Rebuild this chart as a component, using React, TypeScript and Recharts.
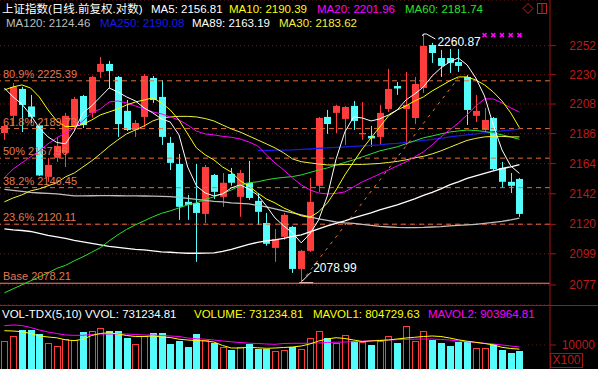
import React from "react";
import {
  ComposedChart, Bar, Line, XAxis, YAxis, CartesianGrid, ReferenceLine, ReferenceDot,
} from "recharts";

// daily candles
const opens = [
  2186.5, 2199.2, 2219.3, 2206.2, 2192.0, 2154.3, 2168.2, 2171.8, 2191.7, 2214.0,
  2201.4, 2232.1, 2238.1, 2228.3, 2202.9, 2188.7, 2198.4, 2227.5, 2213.3, 2179.2,
  2163.7, 2136.2, 2135.4, 2127.5, 2155.7, 2139.8, 2156.4, 2139.8, 2150.0, 2136.9,
  2121.0, 2103.2, 2111.1, 2118.2, 2088.3, 2101.1, 2147.8, 2198.4, 2201.4, 2196.9,
  2206.6, 2185.5, 2184.3, 2183.6, 2204.3, 2221.5, 2204.3, 2197.6, 2220.0, 2252.5,
  2242.6, 2242.6, 2239.6, 2228.3, 2199.2, 2188.7, 2197.6, 2160.8, 2150.7, 2152.8,
];
const highs = [
  2193.1, 2223.8, 2220.8, 2214.8, 2193.1, 2168.2, 2183.6, 2201.4, 2213.3, 2214.8,
  2229.0, 2243.4, 2240.4, 2229.0, 2211.0, 2196.1, 2230.6, 2229.0, 2226.0, 2183.6,
  2171.1, 2141.2, 2163.7, 2163.0, 2156.4, 2157.1, 2160.8, 2159.3, 2166.0, 2142.6,
  2128.2, 2116.7, 2128.2, 2118.9, 2101.8, 2153.5, 2198.4, 2203.6, 2207.3, 2206.6,
  2210.3, 2209.5, 2191.7, 2207.3, 2234.4, 2224.5, 2232.1, 2228.3, 2260.87, 2254.1,
  2248.7, 2249.5, 2249.5, 2229.8, 2214.8, 2205.1, 2198.4, 2165.2, 2157.1, 2153.5,
];
const lows = [
  2181.4, 2192.4, 2187.2, 2193.9, 2155.0, 2150.7, 2165.2, 2161.5, 2188.7, 2190.2,
  2197.7, 2227.5, 2220.0, 2183.6, 2187.9, 2183.6, 2190.9, 2208.8, 2177.7, 2159.3,
  2123.2, 2123.2, 2093.3, 2121.0, 2138.3, 2132.6, 2147.8, 2125.4, 2137.6, 2119.6,
  2104.7, 2093.3, 2108.9, 2085.5, 2078.99, 2100.4, 2143.4, 2185.8, 2186.5, 2177.7,
  2188.7, 2181.4, 2176.3, 2177.7, 2202.1, 2214.8, 2177.7, 2193.1, 2216.3, 2238.9,
  2228.3, 2231.3, 2232.1, 2192.4, 2194.6, 2187.2, 2159.3, 2146.3, 2142.6, 2125.4,
];
const closes = [
  2191.7, 2220.8, 2207.3, 2198.4, 2155.3, 2163.0, 2177.0, 2199.2, 2211.8, 2192.4,
  2228.3, 2238.1, 2232.8, 2193.1, 2188.7, 2193.9, 2229.0, 2211.0, 2183.6, 2164.5,
  2132.6, 2134.0, 2128.2, 2161.5, 2143.4, 2150.0, 2150.0, 2157.1, 2139.0, 2129.0,
  2106.1, 2109.6, 2126.8, 2088.3, 2101.1, 2136.2, 2197.6, 2193.1, 2206.6, 2205.8,
  2195.4, 2186.5, 2182.5, 2201.4, 2219.3, 2219.6, 2207.3, 2223.0, 2251.8, 2246.4,
  2236.6, 2238.9, 2236.6, 2203.6, 2202.9, 2196.1, 2160.0, 2150.7, 2147.8, 2127.5,
];
const volumes = [
  1188000, 1423000, 1712000, 1698000, 1502000, 1108000, 953000, 1268000, 1235000, 1610000,
  1657000, 1784000, 1660000, 1652000, 1343000, 1033000, 1423000, 1577000, 1549000, 1047000,
  1188000, 920000, 1516000, 1235000, 1108000, 918000, 765000, 922000, 1033000, 830000,
  824000, 720000, 768000, 920000, 812000, 1315000, 1657000, 1343000, 1108000, 1469000,
  1188000, 1155000, 1000000, 1190000, 1423000, 1106000, 1892000, 1186000, 1657000, 1235000,
  1080000, 967000, 1155000, 1127000, 848000, 843000, 1033000, 765000, 638000, 731235,
];

// moving averages as drawn
const ma5 = [
  2220.0, 2213.3, 2208.0, 2199.9, 2190.2, 2183.6, 2179.5, 2178.5, 2187.9, 2201.4,
  2206.6, 2213.3, 2220.0, 2217.0, 2213.3, 2210.3, 2205.1, 2201.4, 2196.9, 2194.6,
  2185.1, 2161.5, 2147.8, 2142.6, 2140.5, 2141.9, 2146.3, 2148.5, 2145.5, 2141.2,
  2133.3, 2124.6, 2118.9, 2113.9, 2106.8, 2113.2, 2123.2, 2140.5, 2167.4, 2187.2,
  2198.4, 2197.6, 2195.4, 2196.9, 2199.9, 2203.6, 2211.0, 2215.5, 2220.8, 2229.0,
  2235.1, 2239.6, 2242.6, 2237.4, 2227.5, 2214.0, 2192.4, 2174.0, 2162.3, 2156.8,
];
const ma10 = [
  2218.5, 2220.8, 2222.3, 2220.0, 2213.3, 2203.6, 2195.4, 2191.2, 2191.3, 2192.8,
  2196.1, 2199.9, 2202.1, 2204.3, 2207.3, 2209.5, 2211.0, 2212.6, 2208.8, 2203.6,
  2196.1, 2185.8, 2175.5, 2170.4, 2166.7, 2161.5, 2157.8, 2151.4, 2147.8, 2142.6,
  2138.3, 2135.4, 2131.8, 2129.0, 2126.1, 2125.0, 2129.0, 2135.4, 2144.8, 2155.7,
  2165.2, 2174.7, 2182.9, 2190.9, 2199.2, 2203.6, 2206.6, 2210.3, 2213.3, 2217.8,
  2221.5, 2225.3, 2228.3, 2228.3, 2226.0, 2222.3, 2217.0, 2210.3, 2201.4, 2190.4,
];
const ma20 = [
  2153.6, 2160.0, 2164.5, 2168.9, 2173.3, 2178.5, 2182.9, 2186.5, 2190.2, 2195.4,
  2201.4, 2204.3, 2209.5, 2210.3, 2208.8, 2206.6, 2204.3, 2202.1, 2200.6, 2198.4,
  2196.1, 2192.4, 2187.9, 2185.8, 2185.1, 2184.0, 2183.3, 2182.1, 2179.9, 2177.0,
  2170.4, 2164.5, 2159.3, 2153.5, 2148.5, 2144.8, 2142.6, 2141.9, 2142.3, 2143.4,
  2147.0, 2150.7, 2153.5, 2156.4, 2159.3, 2162.3, 2165.2, 2168.9, 2172.6, 2177.7,
  2183.6, 2188.7, 2193.9, 2199.9, 2206.6, 2211.8, 2211.8, 2208.8, 2205.1, 2202.0,
];
const ma30 = [
  2136.2, 2139.0, 2141.2, 2144.1, 2145.6, 2147.8, 2150.0, 2154.3, 2157.1, 2161.5,
  2166.0, 2171.1, 2176.6, 2181.4, 2185.8, 2188.7, 2191.7, 2195.4, 2197.6, 2198.4,
  2198.8, 2198.8, 2198.4, 2197.2, 2195.4, 2192.4, 2189.5, 2187.2, 2184.3, 2181.4,
  2178.5, 2175.5, 2171.8, 2167.4, 2165.4, 2164.5, 2163.7, 2163.0, 2163.0, 2163.4,
  2163.4, 2163.4, 2163.7, 2164.1, 2164.8, 2165.6, 2166.7, 2168.2, 2169.3, 2171.1,
  2173.3, 2175.9, 2178.5, 2181.0, 2182.5, 2183.6, 2184.0, 2184.0, 2183.6, 2183.6,
];
const ma60 = [
  2071.5, 2074.3, 2077.1, 2079.9, 2082.7, 2085.5, 2088.7, 2090.8, 2094.0, 2096.9,
  2100.1, 2103.3, 2108.2, 2112.5, 2116.4, 2119.6, 2122.5, 2125.4, 2127.9, 2129.7,
  2131.8, 2134.0, 2135.4, 2137.9, 2139.8, 2142.3, 2144.8, 2147.8, 2150.0, 2150.7,
  2152.1, 2153.2, 2153.9, 2154.5, 2155.7, 2157.5, 2159.3, 2160.8, 2163.0, 2164.8,
  2166.7, 2168.9, 2171.1, 2173.3, 2174.8, 2176.3, 2178.5, 2180.7, 2182.9, 2184.3,
  2185.8, 2187.2, 2188.0, 2188.7, 2188.3, 2187.6, 2186.5, 2185.1, 2183.6, 2181.8,
];
const ma89 = [
  2116.7, 2116.0, 2115.6, 2114.9, 2113.5, 2112.1, 2111.1, 2110.0, 2108.6, 2107.5,
  2106.4, 2105.4, 2104.3, 2103.6, 2102.9, 2102.2, 2101.8, 2101.1, 2100.4, 2100.1,
  2099.7, 2099.4, 2099.4, 2099.5, 2099.7, 2100.8, 2102.2, 2104.0, 2105.7, 2107.1,
  2108.2, 2108.9, 2110.0, 2111.4, 2112.5, 2114.6, 2116.7, 2118.9, 2120.7, 2122.5,
  2124.6, 2126.4, 2128.2, 2130.4, 2132.2, 2134.0, 2136.2, 2138.3, 2140.9, 2143.0,
  2145.6, 2148.5, 2150.7, 2153.2, 2155.0, 2156.8, 2158.6, 2160.4, 2161.6, 2163.2,
];
const ma120 = [
  2145.2, 2144.5, 2143.7, 2143.0, 2142.6, 2142.3, 2141.9, 2141.2, 2140.5, 2140.5,
  2140.6, 2140.7, 2140.7, 2140.6, 2140.5, 2140.5, 2140.4, 2140.3, 2140.2, 2140.0,
  2139.4, 2138.7, 2137.9, 2137.2, 2136.5, 2136.2, 2135.4, 2135.1, 2134.7, 2133.6,
  2132.6, 2131.1, 2129.7, 2128.2, 2126.8, 2125.4, 2123.9, 2122.8, 2121.7, 2121.0,
  2120.7, 2120.0, 2119.2, 2118.5, 2118.1, 2117.8, 2117.7, 2117.7, 2117.8, 2118.1,
  2118.4, 2118.9, 2119.2, 2119.6, 2120.0, 2120.7, 2121.4, 2122.1, 2123.2, 2124.5,
];
const ma250 = [
  ...Array(29).fill(null),
  2173.6, 2173.6, 2173.8, 2173.9, 2174.0, 2174.4, 2174.7, 2175.1, 2175.5, 2175.9,
  2176.3, 2176.6, 2177.0, 2177.4, 2177.7, 2178.5, 2178.8, 2179.6, 2180.3, 2181.0,
  2181.8, 2182.5, 2183.6, 2184.3, 2185.1, 2185.8, 2186.5, 2187.2, 2188.0, 2188.7,
  2189.3,
];
const mavol1 = [
  1671000, 1657000, 1624000, 1540000, 1423000, 1376000, 1338000, 1244000, 1202000, 1268000,
  1446000, 1540000, 1577000, 1516000, 1446000, 1399000, 1399000, 1423000, 1376000, 1352000,
  1272000, 1235000, 1211000, 1188000, 1141000, 977000, 859000, 859000, 892000, 869000,
  845000, 859000, 883000, 906000, 953000, 1047000, 1188000, 1282000, 1343000, 1305000,
  1235000, 1164000, 1188000, 1211000, 1235000, 1282000, 1329000, 1362000, 1399000, 1423000,
  1399000, 1329000, 1244000, 1178000, 1127000, 1070000, 1000000, 892000, 836000, 804730,
];
const mavol2 = [
  1906000, 1939000, 1915000, 1822000, 1704000, 1610000, 1540000, 1469000, 1455000, 1455000,
  1493000, 1516000, 1516000, 1516000, 1516000, 1493000, 1469000, 1469000, 1446000, 1423000,
  1399000, 1329000, 1296000, 1272000, 1235000, 1188000, 1150000, 1117000, 1085000, 1070000,
  1047000, 1033000, 1070000, 1080000, 1080000, 1080000, 1094000, 1117000, 1131000, 1141000,
  1155000, 1178000, 1202000, 1221000, 1235000, 1249000, 1263000, 1272000, 1282000, 1282000,
  1258000, 1235000, 1188000, 1155000, 1117000, 1080000, 1047000, 1000000, 953000, 903965,
];

const priceTicks = [2252, 2230, 2208, 2186, 2164, 2142, 2120, 2099, 2077];
const fibLevels = [
  { name: "80.9%", value: 2225.39 },
  { name: "61.8%", value: 2189.73 },
  { name: "50%", value: 2167.96 },
  { name: "38.2%", value: 2146.45 },
  { name: "23.6%", value: 2120.11 },
];
const baseLevel = 2078.21;
const volTicks = [1000000];
const trendEnd = { i: 52, v: 2227.5 };
const signalIdx = [55, 56, 57, 58, 59];
const signalLevel = 2260;

const SLOTS = 63;
const PRICE_MIN = 2063;
const PRICE_MAX = 2287;
const VOL_MIN = -127000;
const VOL_MAX = 2878000;

const UP = "#FF3C3C";
const DOWN = "#54FCFC";
const AXIS = "#A01414";
const AXIS_TEXT = "#B81C1C";
const GRID = "#7A1818";
const FIB = "#E0703C";
const FIB_TEXT = "#E07A52";
const FONT = "'Liberation Sans', Arial, 'Noto Sans CJK SC', sans-serif";

const hiIdx = highs.indexOf(Math.max(...highs));
const loIdx = lows.indexOf(Math.min(...lows));

const rows = Array.from({ length: SLOTS }, (_, i) => ({
  i,
  o: opens[i] ?? null,
  h: highs[i] ?? null,
  l: lows[i] ?? null,
  c: closes[i] ?? null,
  vol: volumes[i] ?? null,
  ma5: ma5[i] ?? null,
  ma10: ma10[i] ?? null,
  ma20: ma20[i] ?? null,
  ma30: ma30[i] ?? null,
  ma60: ma60[i] ?? null,
  ma89: ma89[i] ?? null,
  ma120: ma120[i] ?? null,
  ma250: ma250[i] ?? null,
  mavol1: mavol1[i] ?? null,
  mavol2: mavol2[i] ?? null,
  trend: i === loIdx ? lows[loIdx] : i === trendEnd.i ? trendEnd.v : null,
}));

function Candle(props: any) {
  const { x, y, width, height, payload } = props;
  if (!payload || payload.h == null || !isFinite(y)) return null;
  const { o, h, l, c } = payload;
  const top = Math.min(y, y + height);
  const span = Math.abs(height);
  const k = Math.log(h) - Math.log(l);
  const py = (v: number) => top + (span * (Math.log(h) - Math.log(v))) / k;
  const color = c >= o ? UP : DOWN;
  const c0 = Math.round(x + width / 2);
  const bTop = py(Math.max(o, c));
  const bBot = py(Math.min(o, c));
  return (
    <g>
      <line x1={c0 + 0.5} x2={c0 + 0.5} y1={top} y2={top + span} stroke={color} />
      <rect x={c0 - 3} y={bTop} width={7} height={Math.max(1, bBot - bTop)} fill={color} />
    </g>
  );
}

function VolBar(props: any) {
  const { x, y, width, height, payload } = props;
  if (!payload || payload.vol == null) return null;
  const c0 = Math.round(x + width / 2);
  const top = Math.round(Math.min(y, y + height));
  const bottom = Math.max(y, y + height);
  if (payload.c >= payload.o) {
    return <rect x={c0 - 2.5} y={top + 0.5} width={6} height={bottom - top} fill="none" stroke={UP} />;
  }
  return <rect x={c0 - 3} y={top} width={7} height={bottom - top} fill={DOWN} />;
}

const PriceTick = ({ y, payload }: any) => (
  <text x={596} y={y} dy={4} textAnchor="end" fill={AXIS_TEXT} fontSize={12} fontFamily={FONT}>
    {payload.value}
  </text>
);

const VolTick = ({ y, payload }: any) => (
  <text x={595} y={y} dy={4} textAnchor="end" fill={AXIS_TEXT} fontSize={12} fontFamily={FONT}>
    {payload.value / 100}
  </text>
);

const HighMark = ({ cx, cy }: any) => (
  <g>
    <polyline
      points={`${cx - 1},${cy + 2} ${cx},${cy} ${cx + 3},${cy} ${cx + 12},${cy + 5}`}
      stroke="#fff" fill="none"
    />
    <text x={cx + 14} y={cy + 12} fill="#fff" fontSize={12} fontFamily={FONT}>
      {highs[hiIdx].toFixed(2)}
    </text>
  </g>
);

const LowMark = ({ cx, cy }: any) => (
  <g>
    <line x1={cx - 2} y1={cy + 0.5} x2={cx + 12} y2={cy + 0.5} stroke="#F4C8B8" />
    <line x1={cx + 1} y1={cy - 1} x2={cx + 10} y2={cy - 10} stroke="#fff" />
    <text x={cx + 12} y={cy - 10} fill="#fff" fontSize={12} fontFamily={FONT}>
      {lows[loIdx].toFixed(2)}
    </text>
  </g>
);

const SignalMark = ({ cx, cy }: any) => (
  <g stroke="#FF00FF" strokeWidth={1.5}>
    <line x1={cx - 2} y1={cy - 2} x2={cx + 2} y2={cy + 2} />
    <line x1={cx - 2} y1={cy + 2} x2={cx + 2} y2={cy - 2} />
  </g>
);

function Txt({ x, y, color, children }: any) {
  return (
    <span style={{ position: "absolute", left: x, top: y, color, whiteSpace: "nowrap" }}>
      {children}
    </span>
  );
}

const maLine = (key: string, color: string, w = 1) => (
  <Line
    key={key} dataKey={key} type="linear" stroke={color} strokeWidth={w}
    dot={false} activeDot={false} isAnimationActive={false}
  />
);

export default function App() {
  return (
    <div
      style={{
        position: "relative", width: 598, height: 369, background: "#000",
        overflow: "hidden", fontFamily: FONT, fontSize: 11.5, lineHeight: "14px",
      }}
    >
      <style>{"html,body{margin:0;padding:0;background:#000}"}</style>

      <div style={{ position: "absolute", left: 0, top: 0 }}>
        <ComposedChart width={598} height={305} data={rows} margin={{ top: 0, right: 0, bottom: 0, left: 0 }}>
          <XAxis dataKey="i" hide />
          <YAxis
            orientation="right" type="number" scale="log" width={48}
            domain={[PRICE_MIN, PRICE_MAX]} allowDataOverflow ticks={priceTicks} interval={0}
            tickSize={6} axisLine={{ stroke: AXIS }} tickLine={{ stroke: AXIS }} tick={<PriceTick />}
          />
          <CartesianGrid vertical={false} stroke={GRID} strokeDasharray="1 3" />
          {fibLevels.map((f) => (
            <ReferenceLine
              key={f.name} y={f.value} stroke={FIB} strokeDasharray="5 4"
              label={{
                value: `${f.name} ${f.value.toFixed(2)}`, position: "insideBottomLeft", offset: 3,
                fill: FIB_TEXT, fontSize: 11, fontFamily: FONT,
              }}
            />
          ))}
          <ReferenceLine
            y={baseLevel} stroke="#F08868"
            label={{
              value: `Base ${baseLevel.toFixed(2)}`, position: "insideBottomLeft", offset: 3,
              fill: FIB_TEXT, fontSize: 11, fontFamily: FONT,
            }}
          />
          <Bar
            dataKey={(d: any) => (d.h == null ? null : [d.l, d.h])}
            shape={(p: any) => <Candle {...p} />}
            isAnimationActive={false}
          />
          {maLine("ma120", "#BEBEBE", 1.3)}
          {maLine("ma89", "#FFFFFF", 1.3)}
          {maLine("ma250", "#1A1AE6", 1.3)}
          {maLine("ma60", "#2EE02E")}
          {maLine("ma30", "#F0F040")}
          {maLine("ma20", "#FF00FF")}
          {maLine("ma10", "#FFFF00")}
          {maLine("ma5", "#FFFFFF")}
          <Line
            dataKey="trend" connectNulls stroke="#E87A30" strokeDasharray="3 5"
            dot={false} activeDot={false} isAnimationActive={false}
          />
          <ReferenceDot x={hiIdx} y={highs[hiIdx]} shape={(p: any) => <HighMark {...p} />} />
          <ReferenceDot x={loIdx} y={lows[loIdx]} shape={(p: any) => <LowMark {...p} />} />
          {signalIdx.map((i) => (
            <ReferenceDot key={i} x={i} y={signalLevel} shape={(p: any) => <SignalMark {...p} />} />
          ))}
        </ComposedChart>
      </div>

      <div style={{ position: "absolute", left: 0, top: 305 }}>
        <ComposedChart width={598} height={64} data={rows} margin={{ top: 0, right: 0, bottom: 0, left: 0 }}>
          <XAxis dataKey="i" hide />
          <YAxis
            orientation="right" type="number" width={48}
            domain={[VOL_MIN, VOL_MAX]} allowDataOverflow ticks={volTicks} interval={0}
            tickSize={6} axisLine={{ stroke: AXIS }} tickLine={{ stroke: AXIS }} tick={<VolTick />}
          />
          <ReferenceLine
            segment={[{ x: 60, y: volTicks[0] }, { x: 62, y: volTicks[0] }]}
            stroke={GRID} strokeDasharray="1 3"
          />
          <Bar
            dataKey={(d: any) => (d.vol == null ? null : [VOL_MIN, d.vol])}
            shape={(p: any) => <VolBar {...p} />}
            isAnimationActive={false}
          />
          {maLine("mavol2", "#FF00FF")}
          {maLine("mavol1", "#FFFF00")}
        </ComposedChart>
      </div>

      {/* pane separator */}
      <div style={{ position: "absolute", left: 0, top: 305, width: 598, height: 1, background: "#B01010" }} />

      {/* title + MA readouts */}
      <Txt x={2} y={2} color="#FFFFFF">上证指数(日线.前复权.对数)</Txt>
      <Txt x={151} y={2} color="#FFFFFF">MA5: 2156.81</Txt>
      <Txt x={229} y={2} color="#FFFF00">MA10: 2190.39</Txt>
      <Txt x={317} y={2} color="#FF00FF">MA20: 2201.96</Txt>
      <Txt x={405} y={2} color="#2EE02E">MA60: 2181.74</Txt>
      <Txt x={6} y={16} color="#BEBEBE">MA120: 2124.46</Txt>
      <Txt x={100} y={16} color="#1A1AE6">MA250: 2190.08</Txt>
      <Txt x={192} y={16} color="#FFFFFF">MA89: 2163.19</Txt>
      <Txt x={279} y={16} color="#F0F040">MA30: 2183.62</Txt>

      <svg style={{ position: "absolute", left: 520, top: 1 }} width={30} height={16}>
        <polygon points="8,2.5 13,7.5 8,12.5 3,7.5" fill="none" stroke="#C02020" />
        <rect x={17.5} y={2.5} width={9} height={10} fill="none" stroke="#C02020" />
        <line x1={22} y1={2.5} x2={22} y2={12.5} stroke="#C02020" />
      </svg>

      {/* volume readouts */}
      <Txt x={2} y={307} color="#FFFFFF">VOL-TDX(5,10) VVOL: 731234.81</Txt>
      <Txt x={194} y={307} color="#FFFF00">VOLUME: 731234.81</Txt>
      <Txt x={313} y={307} color="#FFFF00">MAVOL1: 804729.63</Txt>
      <Txt x={428} y={307} color="#FF00FF">MAVOL2: 903964.81</Txt>

      <div
        style={{
          position: "absolute", left: 550, top: 353, width: 31, height: 13,
          border: "1px solid #A01414", color: AXIS_TEXT, fontSize: 12, lineHeight: "13px",
          textAlign: "center",
        }}
      >
        X100
      </div>
    </div>
  );
}
